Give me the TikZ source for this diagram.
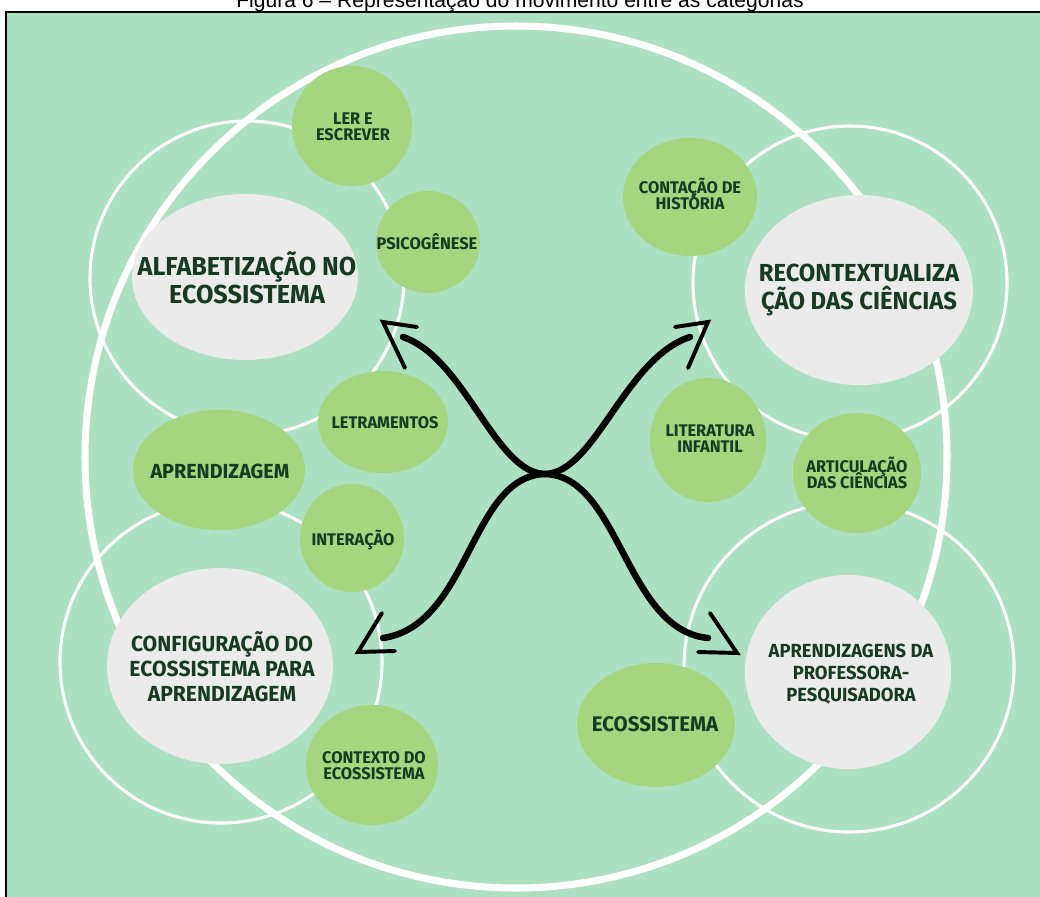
\documentclass[tikz,border=0pt]{standalone}
\usepackage{fontspec}
\setmainfont{Liberation Sans}
\newfontfamily\rotulofont[FakeStretch=0.97]{Fira Sans}
\usepackage{xcolor}
\definecolor{fundoVerde}{RGB}{171,224,194}
\definecolor{bolhaVerde}{RGB}{163,214,126}
\definecolor{bolhaCinza}{RGB}{235,235,235}
\definecolor{textoVerde}{RGB}{22,58,34}
\usepackage{tikz}
\newcommand{\linhajusta}{\setlength{\lineskiplimit}{-100pt}}
\tikzstyle{anel}=[draw=white, line width=2.2pt]
\tikzstyle{anelmaior}=[draw=white, line width=5pt]
\tikzstyle{seta}=[line width=4.6pt, line cap=round]
\tikzstyle{farpa}=[line width=2.8pt, line cap=round, line join=miter]
\tikzset{rotulo/.style 2 args={text=textoVerde, align=center, inner sep=0pt,
    font=\rotulofont\bfseries\fontsize{#1}{#2}\selectfont\linhajusta}}

\begin{document}
\begin{tikzpicture}[x=0.025cm, y=-0.025cm]
    \useasboundingbox (0,0) rectangle (1040,896);
    \clip (0,0) rectangle (1040,896);
    \fill[white] (0,0) rectangle (1040,896);

    % Legenda (cortada no topo)
    \node[anchor=base, font=\fontsize{15}{17}\selectfont] (legenda) at (520,7)
        {Figura 6 – Representação do movimento entre as categorias};

    % Fundo com moldura
    \draw[fill=fundoVerde, draw=black, line width=1.6pt] (6,12) rectangle (1060,920);

    % Aneis brancos
    \draw[anel] (247,278) circle (157);
    \draw[anel] (850,283) circle (157);
    \draw[anel] (221,662) circle (161);
    \draw[anel] (849,667) circle (165);
    \draw[anelmaior] (516,457) circle (431);

    % Categorias (elipses cinza)
    \fill[bolhaCinza] (245,277) ellipse [x radius=113, y radius=83];
    \fill[bolhaCinza] (859,290) ellipse [x radius=114, y radius=95];
    \fill[bolhaCinza] (220,666) ellipse [x radius=113, y radius=98];
    \fill[bolhaCinza] (848,672) ellipse [x radius=103, y radius=97];

    % Subcategorias (bolhas verdes)
    \fill[bolhaVerde] (352,126) ellipse [x radius=60, y radius=60];
    \fill[bolhaVerde] (428,242) ellipse [x radius=52, y radius=51];
    \fill[bolhaVerde] (383,422) ellipse [x radius=65, y radius=51];
    \fill[bolhaVerde] (219,470) ellipse [x radius=86, y radius=60];
    \fill[bolhaVerde] (352,538) ellipse [x radius=52, y radius=54];
    \fill[bolhaVerde] (372,765) ellipse [x radius=66, y radius=60];
    \fill[bolhaVerde] (690,197) ellipse [x radius=67, y radius=59];
    \fill[bolhaVerde] (708,440) ellipse [x radius=58, y radius=62];
    \fill[bolhaVerde] (857,473) ellipse [x radius=64, y radius=60];
    \fill[bolhaVerde] (656,725) ellipse [x radius=79, y radius=62];

    % Textos das categorias
    \node[rotulo={18.5}{20}] (alfa) at (247,278) {ALFABETIZAÇÃO NO\\ECOSSISTEMA};
    \node[rotulo={17.5}{20.5}] (recont) at (859,290) {RECONTEXTUALIZA\\ÇÃO DAS CIÊNCIAS};
    \node[rotulo={15.5}{17.8}] (config) at (222,667) {CONFIGURAÇÃO DO\\ECOSSISTEMA PARA\\APRENDIZAGEM};
    \node[rotulo={13.5}{15.6}] (profpesq) at (851,674) {APRENDIZAGENS DA\\PROFESSORA-\\PESQUISADORA};

    % Textos das subcategorias
    \node[rotulo={12}{11.4}] (ler) at (353,127) {LER E\\ESCREVER};
    \node[rotulo={12}{11.4}] (psico) at (427,242) {PSICOGÊNESE};
    \node[rotulo={12}{11.4}] (letra) at (385,423) {LETRAMENTOS};
    \node[rotulo={14.5}{16}] (aprend) at (220,471) {APRENDIZAGEM};
    \node[rotulo={12}{11.4}] (inter) at (353,540) {INTERAÇÃO};
    \node[rotulo={12}{11.4}] (contexto) at (374,766) {CONTEXTO DO\\ECOSSISTEMA};
    \node[rotulo={12}{11.4}] (contacao) at (690,194) {CONTAÇÃO DE\\HISTÓRIA};
    \node[rotulo={12}{11.4}] (literatura) at (710,439) {LITERATURA\\INFANTIL};
    \node[rotulo={12}{11.4}] (articul) at (857,473) {ARTICULAÇÃO\\DAS CIÊNCIAS};
    \node[rotulo={15}{16}] (ecossis) at (655,724) {ECOSSISTEMA};

    % Setas em X
    \coordinate (centro) at (545,474);
    \coordinate (fimNO) at (403,337);
    \coordinate (fimNE) at (690,337);
    \coordinate (fimSO) at (383,638);
    \coordinate (fimSE) at (708,638);
    \coordinate (pontaNO) at (383,322);
    \coordinate (pontaNE) at (708,322);
    \coordinate (pontaSO) at (358,652);
    \coordinate (pontaSE) at (737,653);

    \draw[seta] (fimNO) .. controls (465,358) and (495,473) .. (centro)
                        .. controls (595,473) and (625,358) .. (fimNE);
    \draw[seta] (fimSO) .. controls (470,625) and (470,476) .. (centro)
                        .. controls (620,476) and (625,630) .. (fimSE);

    \draw[farpa] ([shift={(34,5)}]pontaNO) -- (pontaNO) -- ([shift={(22,46)}]pontaNO);
    \draw[farpa] ([shift={(-33,5)}]pontaNE) -- (pontaNE) -- ([shift={(-20,46)}]pontaNE);
    \draw[farpa] ([shift={(37,-1)}]pontaSO) -- (pontaSO) -- ([shift={(24,-39)}]pontaSO);
    \draw[farpa] ([shift={(-39,-1)}]pontaSE) -- (pontaSE) -- ([shift={(-27,-40)}]pontaSE);
\end{tikzpicture}
\end{document}
